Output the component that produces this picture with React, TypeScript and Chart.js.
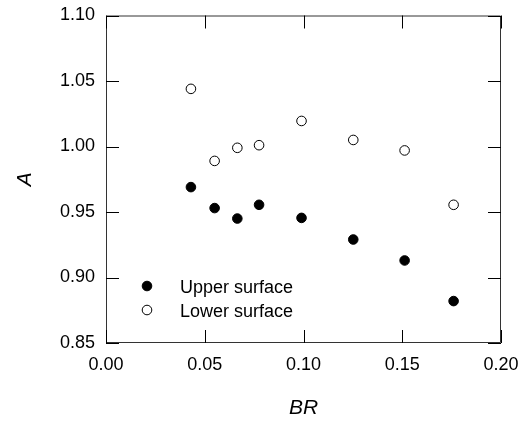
import React, { useEffect, useRef } from "react";
import { Chart, registerables } from "chart.js";

Chart.register(...registerables);

const brValues = [0.043, 0.055, 0.0665, 0.0775, 0.099, 0.1252, 0.1512, 0.176];
const upperSurface = [0.969, 0.953, 0.945, 0.9555, 0.9455, 0.929, 0.913, 0.882];
const lowerSurface = [1.044, 0.989, 0.999, 1.001, 1.0195, 1.005, 0.997, 0.9555];
const xTickValues = [0.0, 0.05, 0.1, 0.15, 0.2];
const yTickValues = [0.85, 0.9, 0.95, 1.0, 1.05, 1.1];
const seriesLabels = ["Upper surface", "Lower surface"];

const FONT = "'Liberation Sans', Arial, Helvetica, sans-serif";

const framePlugin = {
  id: "frameTicks",
  afterDraw(chart: any) {
    const { ctx, chartArea } = chart;
    const { left, right, top, bottom } = chartArea;
    const xs = chart.scales.x;
    const ys = chart.scales.y;
    const len = 13;
    ctx.save();
    ctx.strokeStyle = "#333";
    ctx.lineWidth = 1;
    ctx.beginPath();
    ctx.rect(left + 0.5, top + 0.5, right - left - 1, bottom - top - 1);
    ctx.stroke();
    ctx.strokeStyle = "#000";
    ctx.beginPath();
    xs.ticks.forEach((t: any) => {
      const px = Math.round(xs.getPixelForValue(t.value)) + 0.5;
      ctx.moveTo(px, bottom);
      ctx.lineTo(px, bottom - len);
      ctx.moveTo(px, top);
      ctx.lineTo(px, top + len);
    });
    ys.ticks.forEach((t: any) => {
      const py = Math.round(ys.getPixelForValue(t.value)) + 0.5;
      ctx.moveTo(left, py);
      ctx.lineTo(left + len, py);
      ctx.moveTo(right, py);
      ctx.lineTo(right - len, py);
    });
    ctx.stroke();

    // legend
    const lx = left + 41;
    const ly = ys.getPixelForValue(0.8935);
    const gap = 24;
    ctx.font = `18px ${FONT}`;
    ctx.textBaseline = "middle";
    ctx.textAlign = "left";
    chart.data.datasets.forEach((ds: any, i: number) => {
      const cy = ly + i * gap;
      ctx.beginPath();
      ctx.arc(lx, cy, 4.8, 0, Math.PI * 2);
      ctx.fillStyle = ds.backgroundColor;
      ctx.fill();
      ctx.lineWidth = 1;
      ctx.strokeStyle = ds.borderColor;
      ctx.stroke();
      ctx.fillStyle = "#000";
      ctx.fillText(ds.label, lx + 33, cy + 2);
    });
    ctx.restore();
  },
};

export default function App() {
  const ref = useRef<HTMLCanvasElement>(null);
  useEffect(() => {
    if (!ref.current) return;
    const chart = new Chart(ref.current, {
      type: "scatter",
      data: {
        datasets: [
          {
            label: seriesLabels[0],
            data: brValues.map((x, i) => ({ x, y: upperSurface[i] })),
            backgroundColor: "#000",
            borderColor: "#000",
            pointRadius: 4.8,
            pointBorderWidth: 1,
          },
          {
            label: seriesLabels[1],
            data: brValues.map((x, i) => ({ x, y: lowerSurface[i] })),
            backgroundColor: "#fff",
            borderColor: "#000",
            pointRadius: 4.8,
            pointBorderWidth: 1,
          },
        ],
      },
      options: {
        responsive: false,
        animation: false,
        layout: { padding: { left: 0, right: 21, top: 15.5, bottom: 0 } },
        plugins: {
          legend: { display: false },
          tooltip: { enabled: false },
        },
        scales: {
          x: {
            type: "linear",
            min: 0,
            max: 0.2,
            afterBuildTicks: (s: any) => {
              s.ticks = xTickValues.map((v) => ({ value: v }));
            },
            afterFit: (s: any) => {
              s.height = 78;
              s.paddingLeft = 0;
              s.paddingRight = 0;
            },
            grid: { display: false, drawTicks: false },
            border: { display: false },
            ticks: {
              padding: 11,
              color: "#000",
              font: { family: FONT, size: 18 },
              maxRotation: 0,
              callback: (v: any) => Number(v).toFixed(2),
            },
            title: {
              display: true,
              text: "BR",
              color: "#000",
              font: { family: FONT, size: 21, style: "italic", lineHeight: 1 },
              padding: { top: 0, bottom: 2 },
            },
          },
          y: {
            type: "linear",
            min: 0.85,
            max: 1.1,
            afterBuildTicks: (s: any) => {
              s.ticks = yTickValues.map((v) => ({ value: v }));
            },
            afterFit: (s: any) => {
              s.width = 106;
              s.paddingTop = 0;
              s.paddingBottom = 0;
            },
            grid: { display: false, drawTicks: false },
            border: { display: false },
            ticks: {
              padding: 11,
              color: "#000",
              font: { family: FONT, size: 18 },
              callback: (v: any) => Number(v).toFixed(2),
            },
            title: {
              display: true,
              text: "A",
              color: "#000",
              font: { family: FONT, size: 21, style: "italic", lineHeight: 1 },
              padding: { top: 15, bottom: 0 },
            },
          },
        },
      },
      plugins: [framePlugin],
    });
    return () => chart.destroy();
  }, []);
  return (
    <div style={{ position: "fixed", left: 0, top: 0, width: 522, height: 421, background: "#fff" }}>
      <canvas ref={ref} width={522} height={421} style={{ display: "block" }} />
    </div>
  );
}
